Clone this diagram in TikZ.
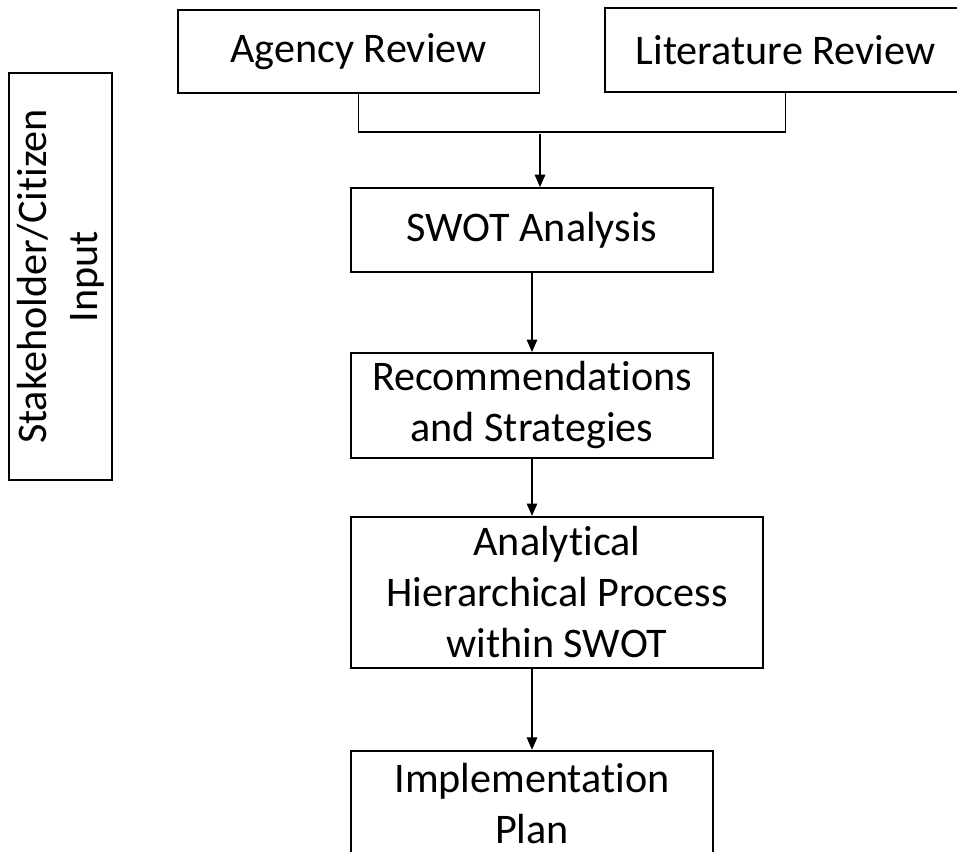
\documentclass[tikz,border=0pt]{standalone}
\usepackage{fontspec}
\setmainfont{Carlito}[Ligatures=NoCommon]
\usetikzlibrary{shapes.geometric, arrows.meta, positioning}

\begin{document}
\begin{tikzpicture}[
    x=0.02cm, y=-0.02cm,
    node distance=1cm,
    block/.style={rectangle, draw=black, line width=1.1pt, fill=white,
                  align=center, inner sep=0pt, minimum width=7.24cm,
                  font=\fontsize{24}{29}\selectfont},
    link/.style={draw=black, line width=0.6pt},
    arrow/.style={link, -{Triangle[width=6pt,length=7pt]}}]
\useasboundingbox (0,0) rectangle (957,852);

\node[block, minimum height=1.66cm] (agency) at (358.5,51.5) {Agency Review};
\node[block, minimum height=1.68cm] (lit) at (785.5,50) {Literature Review};
\node[block, minimum height=2.06cm, minimum width=8.14cm, rotate=90] (input) at (60.5,276.5)
    {Stakeholder/Citizen\\Input};

\node[block, minimum height=1.68cm] (swot) at (532,230) {SWOT Analysis};
\node[block, minimum height=2.1cm, below=1.58cm of swot] (rec) {Recommendations\\and Strategies};
\node[block, minimum height=3.02cm, minimum width=8.24cm,
      below right=1.14cm and 0cm of rec.south west] (ahp) {Analytical\\Hierarchical Process\\within SWOT};
\node[block, minimum height=2.1cm,
      below right=1.62cm and 0cm of ahp.south west] (plan) {Implementation\\Plan};

% merge the two reviews
\coordinate (join) at (540,132);
\draw[link] (agency.south) -- (agency.south |- join) -- (lit.south |- join) -- (lit.south);
\draw[arrow] ([yshift=-1pt]join) -- (join |- swot.north);

\draw[arrow] (swot.south) -- (rec.north);
\draw[arrow] (rec.south) -- (rec.south |- ahp.north);
\draw[arrow] (plan.north |- ahp.south) -- (plan.north);
\end{tikzpicture}
\end{document}
